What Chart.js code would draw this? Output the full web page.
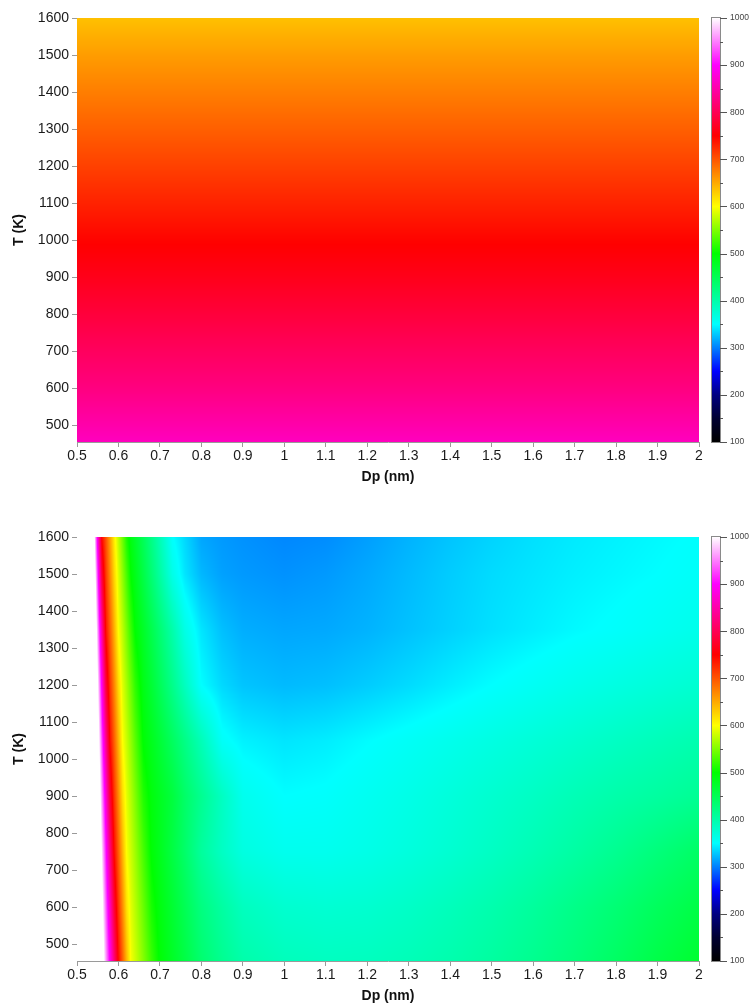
<!DOCTYPE html>
<html>
<head>
<meta charset="utf-8">
<script src="https://cdn.jsdelivr.net/npm/chart.js@4.4.1/dist/chart.umd.min.js"></script>
<style>
  html, body { margin: 0; padding: 0; background: #fff; }
  #wrap { position: relative; width: 756px; height: 1007px; }
  .panel { position: absolute; left: 0; width: 756px; height: 488px; }
  canvas { display: block; }
</style>
</head>
<body>
<div id="wrap">
  <div class="panel" style="top:0"><canvas id="upper" width="756" height="488"></canvas></div>
  <div class="panel" style="top:519px"><canvas id="lower" width="756" height="488"></canvas></div>
</div>
<script>
// ---- axis ticks ----
const dpTicks = [0.5, 0.6, 0.7, 0.8, 0.9, 1.0, 1.1, 1.2, 1.3, 1.4, 1.5, 1.6, 1.7, 1.8, 1.9, 2.0];
const tTicks = [500, 600, 700, 800, 900, 1000, 1100, 1200, 1300, 1400, 1500, 1600];
const barTicks = [100, 150, 200, 250, 300, 350, 400, 450, 500, 550, 600, 650, 700, 750, 800, 850, 900, 950, 1000];
const dpRange = [0.5, 2.0];
const tRange = [455, 1600];

// ---- colour scale ----
const cmapStops = [100, 150, 200, 250, 300, 350, 500, 600, 750, 900, 1000];
const cmapRGB = [[0,0,0],[0,0,50],[0,0,130],[0,0,255],[0,128,255],[0,255,255],[0,255,0],[255,255,0],[255,0,0],[255,0,255],[255,255,255]];

// ---- upper map: value vs T (uniform along Dp) ----
const upperDp = [0.5, 2.0];
const upperT = [455, 500, 600, 700, 800, 900, 1000, 1100, 1200, 1300, 1400, 1500, 1600];
const upperZ = [
  [862, 862],
  [850, 850],
  [825, 825],
  [805, 805],
  [785, 785],
  [765, 765],
  [748, 748],
  [730, 730],
  [712, 712],
  [694, 694],
  [676, 676],
  [658, 658],
  [637, 637]
];

// ---- lower map ----
const lowerDp = [0.50, 0.53, 0.54, 0.55, 0.56, 0.57, 0.58, 0.59, 0.60, 0.61, 0.62, 0.63, 0.64, 0.66, 0.68, 0.70, 0.73, 0.76, 0.80, 0.85, 0.90, 1.00, 1.10, 1.20, 1.30, 1.40, 1.50, 1.60, 1.70, 1.80, 1.90, 2.00];
const lowerT = [455, 600, 750, 900, 1050, 1200, 1350, 1500, 1600];
const lowerZ = [
  [2000,1257,1184,1110,1037,963,890,816,745,693,641,597,582,552,522,497,478,460,435,415,400,390,387,388,392,398,406,416,428,442,458,472],
  [2000,1251,1172,1094,1016,937,859,780,719,668,617,589,573,541,509,491,471,451,425,405,388,378,376,378,383,390,398,408,420,432,446,459],
  [2000,1244,1160,1076,992,907,823,744,694,644,598,580,563,528,497,483,461,439,408,385,368,360,360,364,370,377,385,394,404,415,428,441],
  [2000,1237,1146,1055,964,872,781,718,669,620,589,570,551,513,493,481,464,440,415,386,360,350,352,358,364,371,378,385,393,400,406,413],
  [2000,1228,1129,1030,930,831,741,693,645,599,578,557,536,498,483,468,445,422,392,354,345,340,343,349,355,361,367,373,379,385,391,397],
  [2000,1217,1109,1000,891,783,717,670,622,588,565,542,519,488,469,449,419,388,350,335,327,323,325,330,336,343,350,356,362,367,372,377],
  [2000,1205,1085,964,843,739,693,646,599,574,548,522,499,477,455,433,400,365,340,325,318,315,316,320,326,332,338,343,348,352,357,362],
  [2000,1189,1054,919,784,715,669,623,586,556,527,499,486,459,432,405,364,340,322,313,310,307,310,316,323,330,336,340,344,347,350,354],
  [2000,1180,1030,882,745,700,655,609,574,542,510,490,476,449,421,393,351,335,315,310,307,303,305,312,320,327,333,338,342,345,348,351]
];

const FONT = "'Liberation Sans', Arial, Helvetica, sans-serif";

function colorFor(v) {
  if (v <= cmapStops[0]) return cmapRGB[0];
  const n = cmapStops.length;
  if (v >= cmapStops[n - 1]) return cmapRGB[n - 1];
  let k = 0;
  while (k < n - 2 && v > cmapStops[k + 1]) k++;
  const u = (v - cmapStops[k]) / (cmapStops[k + 1] - cmapStops[k]);
  const a = cmapRGB[k], b = cmapRGB[k + 1];
  return [a[0] + (b[0] - a[0]) * u, a[1] + (b[1] - a[1]) * u, a[2] + (b[2] - a[2]) * u];
}

function locate(arr, v) {
  const n = arr.length;
  if (v <= arr[0]) return [0, 0];
  if (v >= arr[n - 1]) return [n - 2, 1];
  let k = 0;
  while (k < n - 2 && v >= arr[k + 1]) k++;
  return [k, (v - arr[k]) / (arr[k + 1] - arr[k])];
}

// Shades the plot area from the gridded field, pixel by pixel via the chart scales.
const heatPlugin = {
  id: 'heat',
  beforeDatasetsDraw(chart, args, opts) {
    const { ctx, chartArea: a, scales } = chart;
    const g = opts.grid;
    const w = Math.ceil(a.right - a.left), h = Math.ceil(a.bottom - a.top);
    const off = document.createElement('canvas');
    off.width = w; off.height = h;
    const octx = off.getContext('2d');
    const img = octx.createImageData(w, h);
    const cols = [];
    for (let px = 0; px < w; px++) cols.push(locate(g.dp, scales.x.getValueForPixel(a.left + px + 0.5)));
    for (let py = 0; py < h; py++) {
      const [j, v] = locate(g.t, scales.y.getValueForPixel(a.top + py + 0.5));
      const r0 = g.z[j], r1 = g.z[j + 1];
      for (let px = 0; px < w; px++) {
        const [i, u] = cols[px];
        const z0 = r0[i] + (r0[i + 1] - r0[i]) * u;
        const z1 = r1[i] + (r1[i + 1] - r1[i]) * u;
        const c = colorFor(z0 + (z1 - z0) * v);
        const o = (py * w + px) * 4;
        img.data[o] = c[0]; img.data[o + 1] = c[1]; img.data[o + 2] = c[2]; img.data[o + 3] = 255;
      }
    }
    octx.putImageData(img, 0, 0);
    ctx.save();
    ctx.beginPath();
    ctx.rect(a.left, a.top, a.right - a.left, a.bottom - a.top);
    ctx.clip();
    ctx.drawImage(off, a.left, a.top);
    ctx.restore();
  }
};

// Colour bar drawn along the 'c' scale.
const barPlugin = {
  id: 'colorbar',
  afterDraw(chart) {
    const { ctx, chartArea: a, scales } = chart;
    const c = scales.c;
    const x0 = a.right + 13, bw = 8;
    const yTop = c.getPixelForValue(1000), yBot = c.getPixelForValue(100);
    ctx.save();
    for (let y = Math.floor(yTop); y < Math.ceil(yBot); y++) {
      const v = c.getValueForPixel(y + 0.5);
      const col = colorFor(v);
      ctx.fillStyle = `rgb(${col[0] | 0},${col[1] | 0},${col[2] | 0})`;
      ctx.fillRect(x0, y, bw, 1);
    }
    ctx.strokeStyle = '#8a8a8a';
    ctx.lineWidth = 1;
    ctx.strokeRect(x0 - 0.5, yTop - 0.5, bw + 1, yBot - yTop + 1);
    ctx.strokeStyle = '#555';
    barTicks.forEach(t => {
      const y = Math.round(c.getPixelForValue(t)) + 0.5;
      const len = t % 100 === 0 ? 7 : 3;
      ctx.beginPath();
      ctx.moveTo(x0 + bw, y);
      ctx.lineTo(x0 + bw + len, y);
      ctx.stroke();
    });
    ctx.restore();
  }
};

function makeMap(id, grid) {
  const nodes = [];
  grid.t.forEach((t, j) => grid.dp.forEach((d, i) => nodes.push({ x: d, y: t, v: grid.z[j][i] })));
  return new Chart(document.getElementById(id), {
    type: 'scatter',
    data: { datasets: [{ data: nodes, pointRadius: 0, pointHoverRadius: 0 }] },
    plugins: [heatPlugin, barPlugin],
    options: {
      responsive: false,
      animation: false,
      events: [],
      layout: { padding: { top: 18, left: 0, right: 0, bottom: 0 } },
      plugins: {
        legend: { display: false },
        tooltip: { enabled: false },
        heat: { grid: grid }
      },
      scales: {
        x: {
          type: 'linear',
          min: dpRange[0], max: dpRange[1],
          afterBuildTicks: s => { s.ticks = dpTicks.map(v => ({ value: v })); },
          afterFit: s => { s.height = 46; },
          grid: { display: true, drawOnChartArea: false, drawTicks: true, tickLength: 5, color: '#9a9a9a' },
          border: { display: true, color: '#9a9a9a' },
          ticks: { callback: v => String(+v.toFixed(1)), font: { family: FONT, size: 14 }, color: '#1a1a1a', padding: 1, maxRotation: 0, autoSkip: false },
          title: { display: true, text: 'Dp (nm)', font: { family: FONT, size: 14, weight: 'bold' }, color: '#111', padding: { top: 0, bottom: 2 } }
        },
        y: {
          type: 'linear',
          min: tRange[0], max: tRange[1],
          afterBuildTicks: s => { s.ticks = tTicks.map(v => ({ value: v })); },
          afterFit: s => { s.width = 77; },
          grid: { display: true, drawOnChartArea: false, drawTicks: true, tickLength: 5, color: '#9a9a9a' },
          border: { display: true, color: '#9a9a9a' },
          ticks: { callback: v => String(v), font: { family: FONT, size: 14 }, color: '#1a1a1a', padding: 3, autoSkip: false },
          title: { display: true, text: 'T (K)', font: { family: FONT, size: 14, weight: 'bold' }, color: '#111', padding: { top: 11, bottom: 0 } }
        },
        c: {
          type: 'linear',
          position: 'right',
          min: 100, max: 1000,
          afterBuildTicks: s => { s.ticks = barTicks.filter(v => v % 100 === 0).map(v => ({ value: v })); },
          afterFit: s => { s.width = 57; },
          grid: { display: true, drawOnChartArea: false, drawTicks: true, tickLength: 29, color: 'rgba(0,0,0,0)' },
          border: { display: false },
          ticks: { callback: v => String(v), font: { family: FONT, size: 8.5 }, color: '#444', padding: 2, autoSkip: false }
        }
      }
    }
  });
}

makeMap('upper', { dp: upperDp, t: upperT, z: upperZ });
makeMap('lower', { dp: lowerDp, t: lowerT, z: lowerZ });
</script>
</body>
</html>
